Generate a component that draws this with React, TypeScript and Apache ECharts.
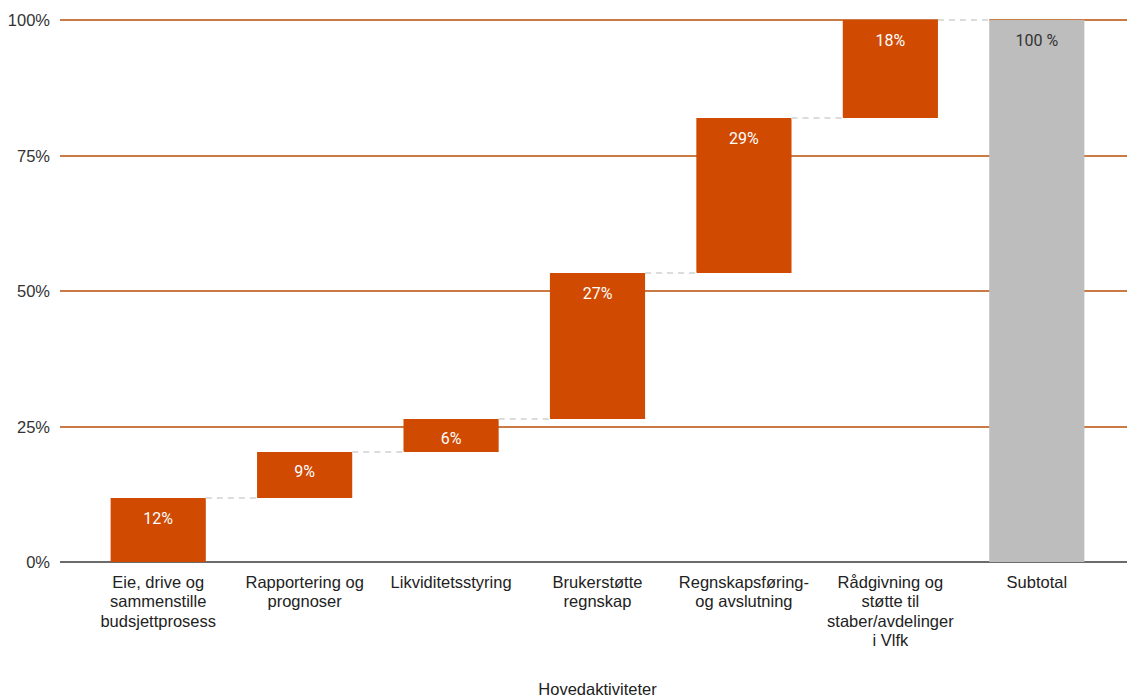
import React, { useEffect, useRef } from "react";
import * as echarts from "echarts";

const categories = [
  "Eie, drive og\nsammenstille\nbudsjettprosess",
  "Rapportering og\nprognoser",
  "Likviditetsstyring",
  "Brukerstøtte\nregnskap",
  "Regnskapsføring-\nog avslutning",
  "Rådgivning og\nstøtte til\nstaber/avdelinger\ni Vlfk",
  "Subtotal",
];
const steps = [11.8, 8.5, 6.1, 26.9, 28.6, 18.1];
const valueLabels = ["12%", "9%", "6%", "27%", "29%", "18%", "100 %"];
const yTicks = [0, 25, 50, 75, 100];

const ORANGE = "#D04A02";
const GREY = "#BDBDBD";
const GRIDLINE = "#C97A45";

export default function App() {
  const ref = useRef<HTMLDivElement>(null);
  useEffect(() => {
    if (!ref.current) return;
    const chart = echarts.init(ref.current, undefined, { renderer: "svg" });
    const tops: number[] = [];
    let acc = 0;
    steps.forEach((s) => {
      acc += s;
      tops.push(+acc.toFixed(2));
    });
    const total = tops[tops.length - 1];
    const bases = [0, ...tops.slice(0, -1)].concat([0]);
    const visible = steps
      .map((s) => ({ value: s, itemStyle: { color: ORANGE }, label: { color: "#ffffff" } }))
      .concat([{ value: total, itemStyle: { color: GREY }, label: { color: "#333333" } }]);
    const connectors = tops.map((t, i) => [i, t]);

    chart.setOption({
      animation: false,
      grid: [
        { left: 85, right: 17, top: 20, bottom: 134, outerBoundsMode: "none", containLabel: false },
        { left: 60, right: 0, top: 20, bottom: 134, outerBoundsMode: "none", containLabel: false },
      ],
      xAxis: [
        {
          type: "category",
          gridIndex: 0,
          data: categories,
          axisLine: { show: false },
          axisTick: { show: false },
          axisLabel: {
            interval: 0,
            margin: 10,
            color: "#222",
            fontFamily: "Liberation Sans, Arial, sans-serif",
            fontSize: 16.5,
            lineHeight: 19.5,
          },
          name: "Hovedaktiviteter",
          nameLocation: "middle",
          nameGap: 118,
          nameTextStyle: {
            color: "#222",
            fontFamily: "Liberation Sans, Arial, sans-serif",
            fontSize: 16.5,
          },
        },
        {
          type: "category",
          gridIndex: 1,
          data: [""],
          show: false,
        },
      ],
      yAxis: [
        {
          type: "value",
          gridIndex: 0,
          min: 0,
          max: 100,
          interval: 25,
          show: false,
          splitLine: { show: false },
        },
        {
          type: "value",
          gridIndex: 1,
          min: yTicks[0],
          max: yTicks[yTicks.length - 1],
          interval: 25,
          axisLine: { show: false },
          axisTick: { show: false },
          axisLabel: {
            formatter: "{value}%",
            margin: 10,
            color: "#333",
            fontFamily: "Liberation Sans, Arial, sans-serif",
            fontSize: 16.5,
          },
          splitLine: {
            show: true,
            lineStyle: {
              color: ["#6b6b6b", GRIDLINE, GRIDLINE, GRIDLINE, GRIDLINE],
              width: 2,
            },
          },
        },
      ],
      series: [
        {
          type: "bar",
          xAxisIndex: 0,
          yAxisIndex: 0,
          stack: "wf",
          barWidth: "65%",
          itemStyle: { color: "transparent" },
          emphasis: { disabled: true },
          data: bases,
          silent: true,
          z: 2,
        },
        {
          type: "bar",
          xAxisIndex: 0,
          yAxisIndex: 0,
          stack: "wf",
          barWidth: "65%",
          data: visible,
          label: {
            show: true,
            position: "insideTop",
            distance: 12,
            fontFamily: "Roboto, sans-serif",
            fontSize: 16,
            formatter: (p: any) => valueLabels[p.dataIndex],
          },
          z: 3,
        },
        {
          type: "custom",
          xAxisIndex: 0,
          yAxisIndex: 0,
          data: connectors,
          z: 4,
          silent: true,
          renderItem: (params: any, api: any) => {
            const i = api.value(0);
            const v = api.value(1);
            const p0 = api.coord([i, v]);
            const p1 = api.coord([i + 1, v]);
            const bw = api.size([1, 0])[0] * 0.65;
            const shape = { x1: p0[0] + bw / 2, y1: p0[1], x2: p1[0] - bw / 2, y2: p1[1] };
            return {
              type: "group",
              children: [
                { type: "line", shape, style: { stroke: "#ffffff", lineWidth: 2.5 } },
                { type: "line", shape, style: { stroke: "rgba(150,150,150,0.45)", lineWidth: 1.5, lineDash: [6, 5] } },
              ],
            };
          },
        },
      ],
    });
    return () => chart.dispose();
  }, []);
  return <div ref={ref} style={{ width: 1127, height: 696, position: "absolute", left: 0, top: 0 }} />;
}
